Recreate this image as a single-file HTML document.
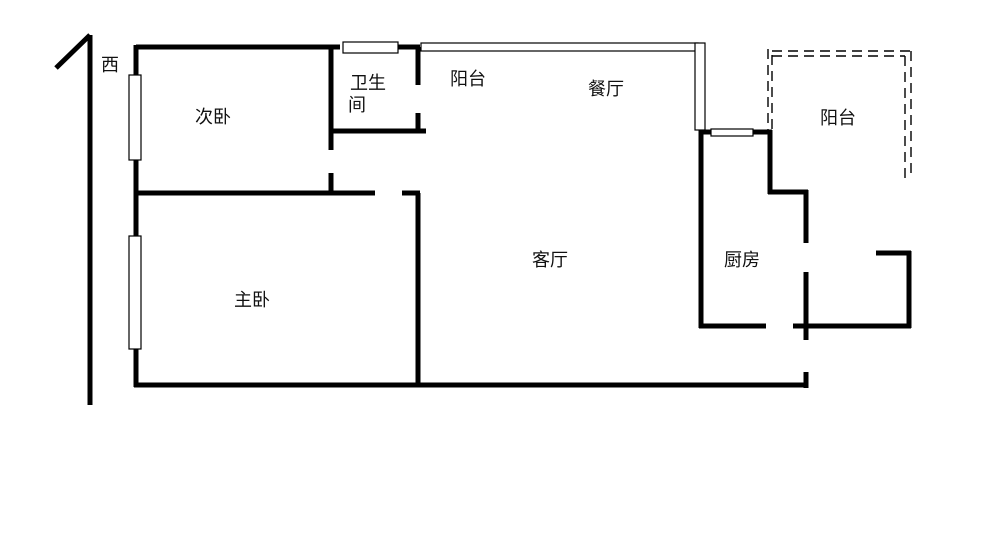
<!DOCTYPE html><html><head><style>html,body{margin:0;padding:0;background:#fff}svg{display:block}text{font-family:"Liberation Sans","Noto Sans CJK SC",sans-serif;font-size:18px;fill:#111}</style></head><body>
<svg width="1000" height="533" xmlns="http://www.w3.org/2000/svg">
<g stroke="#000" stroke-width="5" fill="none" stroke-linecap="butt">
<path d="M90,35 V405 M90,35 L56,68"/>
<path d="M136,47 H340 M398,47 H420 M136,45 V387 M134,385 H806"/>
<path d="M331,47 V150 M329,131 H426 M418,47 V85 M418,113 V133"/>
<path d="M331,173 V193 M136,193 H375 M402,193 H420 M418,193 V385"/>
<path d="M701,130 V328 M701,132 H772 M770,130 V194 M768,192 H808 M806,190 V243 M806,272 V340 M806,372 V388"/>
<path d="M699,326 H766 M793,326 H911 M909,251 V328 M876,253 H911"/>
</g>
<g stroke="#000" stroke-width="1.2" fill="#fff">
<rect x="129" y="75" width="12" height="85"/>
<rect x="129" y="236" width="12" height="113"/>
<rect x="343" y="42" width="55" height="11"/>
<rect x="421" y="43" width="277" height="8"/>
<rect x="695" y="43" width="10" height="87"/>
<rect x="711" y="129" width="42" height="7"/>
</g>
<g stroke="#000" stroke-width="1.4" fill="none" stroke-dasharray="10,6">
<path d="M768,49 V130 M772,55 V130"/>
<path d="M772,51 H912 M772,56 H905"/>
<path d="M905,56 V178 M911,51 V178"/>
</g>
<text x="101" y="71" font-size="17">西</text>
<text x="195" y="123">次卧</text>
<text x="350" y="89">卫生</text>
<text x="348" y="111">间</text>
<text x="450" y="85">阳台</text>
<text x="588" y="95">餐厅</text>
<text x="820" y="124">阳台</text>
<text x="532" y="266">客厅</text>
<text x="724" y="266">厨房</text>
<text x="234" y="306">主卧</text>
</svg></body></html>
